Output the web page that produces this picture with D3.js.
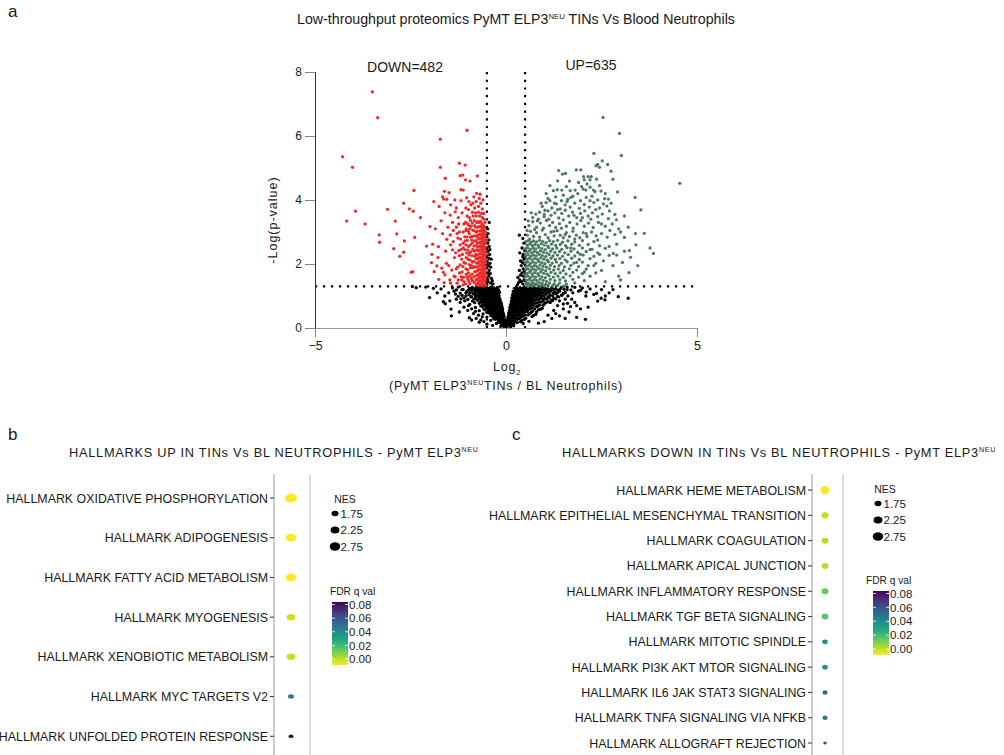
<!DOCTYPE html>
<html>
<head>
<meta charset="utf-8">
<script src="https://cdn.jsdelivr.net/npm/d3@7"></script>
<style>
  body { margin: 0; background: #fff; }
  text { font-family: "Liberation Sans", Arial, sans-serif; fill: #1a1a1a; }
</style>
</head>
<body>
<div id="chart"></div>
<script>
// ---------- panel a : volcano ----------
const xTicks = [-5, 0, 5];
const yTicks = [0, 2, 4, 6, 8];
const foldCut = 0.5;
const pCut = 1.3;
const downCount = 482;
const upCount = 635;

// [log2 fold change, -log10 p]
const downPts = [
  [-3.50,7.38],[-3.36,6.57],[-4.28,5.35],[-4.02,5.02],[-3.94,3.65],[-4.17,3.34],[-3.69,3.25],[-3.10,3.71],[-2.90,3.34],[-2.68,3.90],
  [-2.53,3.72],[-2.41,4.30],[-2.43,3.65],[-2.24,3.45],[-1.99,3.17],[-1.89,3.95],[-1.72,5.90],[-1.72,5.02],[-1.59,4.68],[-1.61,4.27],
  [-1.49,4.23],[-1.66,4.10],[-1.63,4.03],[-1.55,4.02],[-1.34,4.00],[-1.46,3.53],[-1.33,3.63],[-1.22,5.15],[-1.07,5.09],[-1.02,6.18],
  [-1.20,4.76],[-1.13,4.78],[-1.06,4.63],[-0.94,4.59],[-0.75,4.75],[-1.18,4.32],[-1.12,4.31],[-1.03,4.07],[-0.77,4.21],[-0.68,4.18],
  [-1.18,3.98],[-0.97,3.95],[-0.84,4.10],[-0.87,3.90],
  [-3.32,2.91],[-3.31,2.68],[-2.86,2.94],[-2.66,2.72],[-2.94,2.48],[-2.78,2.24],[-2.68,2.37],[-2.39,2.83],[-2.48,1.74],[-2.44,1.76],
  [-2.08,2.56],[-1.94,2.30],[-1.95,2.04],[-1.77,2.54],[-1.81,1.94],[-1.88,1.76],[-1.76,1.52],[-1.68,1.87],[-1.64,1.74],[-1.60,1.66],
  [-1.56,2.02],[-1.55,2.77],[-1.46,2.91],[-1.40,2.44],[-1.42,1.81],[-1.47,1.50],[-1.33,1.60],[-1.26,2.81],[-1.22,2.26],[-1.20,1.97],
  [-1.16,1.50],[-1.12,2.65],
  [-1.40,3.30],[-1.30,3.15],[-1.25,3.45],[-1.15,3.60],[-1.10,3.25],[-1.05,3.75],[-1.02,3.50],[-0.98,3.70],[-0.92,3.85],[-0.88,3.62],
  [-0.82,3.75],[-0.78,3.95],[-0.72,3.80],[-0.66,3.90],[-0.62,3.72],[-0.58,3.58],[-0.70,4.05],[-0.60,4.00],
  [-1.38,2.70],[-1.35,2.20],[-1.30,1.85],[-1.28,1.40],[-1.22,3.00],[-1.18,2.45],[-1.15,1.75],[-1.10,2.05],[-1.08,2.85],[-1.06,1.38],
  [-1.05,2.60],[-1.04,3.10],
  [-1.92,2.62],[-1.85,3.10],[-1.78,2.20],[-1.70,3.35],[-1.66,2.95],[-1.58,2.40],[-1.52,3.15],[-1.50,1.95],[-1.45,2.60],[-1.38,3.05],
  [-1.36,1.62],[-1.32,2.35],[-1.28,2.95],[-1.27,1.90],[-1.24,3.25],[-1.20,2.60],[-1.17,1.60],[-1.14,2.30],[-1.12,3.00],[-1.10,1.45],
  [-1.08,2.45],[-1.06,3.30],[-1.05,1.85],[-1.04,2.20],[-1.03,2.85],[-1.02,1.60],[-1.12,1.35],[-1.25,1.50],[-1.45,1.40],[-1.62,1.42],
  [-1.00,3.25],[-0.96,3.45],[-1.60,3.60],[-1.75,3.80],[-1.30,3.75],[-1.45,3.85],
  [-0.97,1.45],[-0.98,1.72],[-0.96,1.98],[-0.97,2.28],[-0.98,2.55],[-0.96,2.95],[-0.97,3.20],[-1.04,1.68],[-1.06,2.02],[-1.03,2.35],
  [-1.07,2.72],[-1.05,3.05],[-1.11,1.58],[-1.13,1.92],[-1.12,2.50],[-1.16,2.15],[-1.19,2.78],[-1.22,1.72],[-1.24,2.42],[-0.91,1.55],
  [-0.91,1.95],[-0.92,2.38],[-0.90,2.75],[-0.91,3.18],[-0.86,3.50],[-0.80,3.60],[-0.72,3.62],[-0.64,3.58],
  [-0.53,1.34],[-0.55,1.45],[-0.54,1.57],[-0.53,1.68],[-0.55,1.80],[-0.54,1.92],[-0.53,2.04],[-0.55,2.16],[-0.54,2.28],[-0.53,2.40],
  [-0.55,2.52],[-0.54,2.64],[-0.53,2.76],[-0.55,2.88],[-0.54,3.00],[-0.56,3.14],[-0.55,3.30],
  [-0.58,1.38],[-0.59,1.50],[-0.57,1.62],[-0.58,1.74],[-0.59,1.86],[-0.57,1.98],[-0.58,2.10],[-0.59,2.22],[-0.57,2.34],[-0.58,2.46],
  [-0.59,2.58],[-0.57,2.70],[-0.58,2.82],[-0.59,2.94],[-0.57,3.06],[-0.59,3.20],[-0.58,3.40],
  [-0.62,1.32],[-0.63,1.44],[-0.61,1.56],[-0.62,1.68],[-0.63,1.80],[-0.61,1.92],[-0.62,2.04],[-0.63,2.16],[-0.61,2.28],[-0.62,2.40],
  [-0.63,2.52],[-0.61,2.64],[-0.62,2.76],[-0.63,2.88],[-0.61,3.00],[-0.62,3.12],[-0.63,3.26],[-0.62,3.45],
  [-0.66,1.36],[-0.67,1.49],[-0.65,1.61],[-0.66,1.73],[-0.67,1.85],[-0.65,1.97],[-0.66,2.09],[-0.67,2.21],[-0.65,2.33],[-0.66,2.45],
  [-0.67,2.57],[-0.65,2.69],[-0.66,2.81],[-0.67,2.93],[-0.65,3.05],[-0.66,3.18],[-0.67,3.33],
  [-0.70,1.33],[-0.71,1.46],[-0.69,1.58],[-0.70,1.70],[-0.71,1.83],[-0.69,1.95],[-0.70,2.07],[-0.71,2.19],[-0.69,2.31],[-0.70,2.43],
  [-0.71,2.55],[-0.69,2.67],[-0.70,2.79],[-0.71,2.91],[-0.69,3.03],[-0.70,3.17],[-0.71,3.30],[-0.69,3.50],
  [-0.74,1.40],[-0.75,1.53],[-0.73,1.66],[-0.74,1.79],[-0.75,1.91],[-0.73,2.03],[-0.74,2.16],[-0.75,2.28],[-0.73,2.41],[-0.74,2.53],
  [-0.75,2.66],[-0.73,2.78],[-0.74,2.90],[-0.75,3.03],[-0.73,3.15],[-0.74,3.32],
  [-0.78,1.35],[-0.79,1.50],[-0.77,1.64],[-0.78,1.77],[-0.79,1.90],[-0.77,2.03],[-0.78,2.17],[-0.79,2.30],[-0.77,2.44],[-0.78,2.58],
  [-0.79,2.72],[-0.77,2.86],[-0.78,3.00],[-0.79,3.15],[-0.77,3.30],[-0.78,3.50],
  [-0.83,1.42],[-0.84,1.60],[-0.82,1.76],[-0.83,1.92],[-0.84,2.08],[-0.82,2.24],[-0.83,2.40],[-0.84,2.56],[-0.82,2.72],[-0.83,2.88],
  [-0.84,3.04],[-0.82,3.20],[-0.83,3.36],
  [-0.88,1.48],[-0.89,1.68],[-0.87,1.88],[-0.88,2.06],[-0.89,2.26],[-0.87,2.46],[-0.88,2.66],[-0.89,2.86],[-0.87,3.06],[-0.88,3.28],
  [-0.94,1.38],[-0.95,1.62],[-0.93,1.88],[-0.94,2.12],[-0.95,2.36],[-0.93,2.60],[-0.94,2.84],[-0.95,3.10],[-0.93,3.36],
  [-1.00,1.52],[-1.01,1.82],[-0.99,2.14],[-1.00,2.44],[-1.01,2.74],[-0.99,3.02]
];

const upPts = [
  [2.54,6.58],[2.97,6.08],[2.30,5.46],[3.02,5.39],[2.52,5.22],[2.36,5.07],[2.40,5.11],[2.45,5.02],[2.66,5.11],[2.75,4.90],
  [2.80,4.65],[1.38,4.92],[1.56,4.83],[1.48,4.81],[1.84,4.94],[1.96,4.94],[2.03,4.73],[2.05,4.63],[2.15,4.73],[2.20,4.63],
  [2.23,4.73],[1.66,4.59],[2.37,4.65],[4.55,4.52],[1.24,4.29],[1.34,4.32],[1.46,4.31],[1.68,4.29],[1.81,4.31],[1.98,4.42],
  [2.02,4.34],[2.09,4.31],[2.20,4.40],[2.29,4.31],[2.33,4.26],[2.49,4.28],[2.92,4.25],[2.58,4.04],[2.68,4.03],[3.38,4.08],
  [3.53,3.69],[2.89,3.38],[2.71,3.66],[2.64,3.81],[3.39,2.95],[3.62,2.96],[0.78,3.56],[0.82,3.35],[1.00,3.55],
  [3.86,2.33],[3.10,2.83],[3.23,2.42],[3.26,2.21],[3.22,1.73],[2.90,2.28],[2.81,2.33],[3.77,2.50],[3.45,1.95],[2.95,1.62],[3.05,2.05],
  [0.62,2.78],[0.75,3.08],[0.85,3.40],[0.92,3.90],[1.05,4.20],[1.15,4.45],[1.27,3.90],[1.35,4.60],[1.45,3.98],[1.58,4.42],
  [1.70,4.08],[1.78,3.52],[1.90,4.55],[2.00,3.45],[2.12,4.50],[2.22,3.40],[2.35,3.70],[2.45,4.45],[2.50,3.25],[2.60,4.20],
  [2.72,3.05],[2.75,3.90],[2.85,3.55],[2.95,3.10],[3.10,3.50],[3.20,3.15],[1.25,3.02],[1.55,2.92],[1.80,2.78],[2.10,2.95],
  [2.40,2.75],[2.70,2.55],[2.90,2.62],[3.10,2.40],[3.40,2.60],[2.55,2.10],[2.80,1.95],[3.00,1.50],[2.60,1.45],[2.35,1.72],
  [2.45,2.30],[2.20,2.45],[1.95,2.30],[1.70,2.50],[1.85,2.05],[2.05,1.75],[2.30,1.95],[0.66,3.60],[0.58,3.35],[0.55,3.05],
  [1.10,4.05],[1.30,4.10],[1.50,4.15],[1.62,4.02],[1.75,4.12],[1.88,4.20],[2.10,4.08],[2.25,4.12],[2.40,4.00],[1.95,3.98],
  [0.95,3.80],[1.05,3.92],[1.20,3.75],[1.32,3.88],[1.42,3.72],[1.55,3.85],[1.68,3.78],[1.80,3.90],[1.92,3.74],[2.05,3.86],
  [2.18,3.78],[2.30,3.92],[2.45,3.75],[2.55,3.88],[2.20,3.98],[1.60,3.95],[1.15,3.98],
  [0.70,3.45],[0.88,3.62],[1.00,3.48],[1.10,3.66],[1.18,3.52],[1.28,3.60],[1.38,3.44],[1.46,3.58],[1.55,3.68],[1.64,3.50],
  [1.74,3.62],[1.85,3.45],[1.95,3.58],[2.06,3.66],[2.15,3.50],[2.26,3.60],[2.40,3.48],[2.52,3.56],[2.68,3.42],[1.02,3.68],[1.35,3.70],
  [0.60,3.20],[0.70,3.32],[0.80,3.15],[0.90,3.28],[0.98,3.12],[1.06,3.36],[1.14,3.20],[1.22,3.30],[1.30,3.14],[1.40,3.26],
  [1.50,3.38],[1.58,3.18],[1.67,3.30],[1.76,3.12],[1.86,3.25],[1.96,3.36],[2.05,3.18],[2.16,3.28],[2.28,3.14],[2.42,3.30],
  [2.60,3.18],[2.78,3.25],[1.12,3.40],[1.45,3.12],
  [0.56,2.90],[0.64,3.02],[0.72,2.86],[0.80,2.98],[0.88,2.84],[0.95,3.06],[1.03,2.92],[1.10,2.82],[1.18,3.00],[1.26,2.88],
  [1.34,3.04],[1.42,2.90],[1.50,2.82],[1.58,2.98],[1.66,2.86],[1.75,3.02],[1.84,2.90],[1.93,2.82],[2.02,2.98],[2.12,2.86],
  [2.24,3.00],[2.36,2.88],[2.50,2.95],[2.65,2.84],[2.85,2.92],[3.00,3.00],
  [0.52,2.70],[0.58,2.73],[0.65,2.68],[0.72,2.72],[0.80,2.69],[0.88,2.74],[0.96,2.70],[1.05,2.67],[1.14,2.73],[1.24,2.70],
  [1.35,2.74],[1.48,2.68],[1.62,2.72],[1.80,2.69],[2.00,2.73],[2.30,2.70],
  [0.55,2.59],[0.62,2.62],[0.69,2.57],[0.76,2.61],[0.84,2.58],[0.92,2.63],[1.00,2.59],[1.09,2.56],[1.19,2.62],[1.30,2.58],
  [1.42,2.61],[1.56,2.57],[1.72,2.62],[1.92,2.58],[2.15,2.61],[2.45,2.57],
  [0.51,2.48],[0.57,2.51],[0.64,2.46],[0.71,2.50],[0.78,2.47],[0.86,2.52],[0.94,2.48],[1.03,2.45],[1.12,2.51],[1.22,2.47],
  [1.33,2.50],[1.46,2.46],[1.60,2.51],[1.78,2.47],[2.00,2.50],[2.25,2.46],[2.60,2.49],
  [0.53,2.37],[0.60,2.40],[0.67,2.35],[0.74,2.39],[0.82,2.36],[0.90,2.41],[0.98,2.37],[1.07,2.34],[1.17,2.40],[1.28,2.36],
  [1.40,2.39],[1.54,2.35],[1.70,2.40],[1.88,2.36],[2.10,2.39],[2.40,2.35],
  [0.52,2.26],[0.58,2.29],[0.65,2.24],[0.72,2.28],[0.79,2.25],[0.87,2.30],[0.95,2.26],[1.04,2.23],[1.13,2.29],[1.23,2.25],
  [1.35,2.28],[1.48,2.24],[1.63,2.29],[1.80,2.25],[2.02,2.28],[2.30,2.24],[2.70,2.27],
  [0.54,2.15],[0.61,2.18],[0.68,2.13],[0.75,2.17],[0.83,2.14],[0.91,2.19],[0.99,2.15],[1.08,2.12],[1.18,2.18],[1.29,2.14],
  [1.41,2.17],[1.55,2.13],[1.72,2.18],[1.92,2.14],[2.20,2.17],
  [0.51,2.04],[0.57,2.07],[0.64,2.02],[0.71,2.06],[0.78,2.03],[0.86,2.08],[0.94,2.04],[1.02,2.01],[1.11,2.07],[1.21,2.03],
  [1.32,2.06],[1.45,2.02],[1.60,2.07],[1.78,2.03],[2.00,2.06],[2.35,2.02],
  [0.53,1.93],[0.60,1.96],[0.67,1.91],[0.74,1.95],[0.81,1.92],[0.89,1.97],[0.97,1.93],[1.06,1.90],[1.16,1.96],[1.27,1.92],
  [1.39,1.95],[1.53,1.91],[1.70,1.96],[1.90,1.92],[2.15,1.95],
  [0.52,1.82],[0.58,1.85],[0.65,1.80],[0.72,1.84],[0.79,1.81],[0.87,1.86],[0.95,1.82],[1.04,1.79],[1.14,1.85],[1.25,1.81],
  [1.37,1.84],[1.50,1.80],[1.66,1.85],[1.85,1.81],[2.10,1.84],[2.50,1.80],
  [0.54,1.71],[0.61,1.74],[0.68,1.69],[0.75,1.73],[0.83,1.70],[0.91,1.75],[0.99,1.71],[1.08,1.68],[1.18,1.74],[1.29,1.70],
  [1.42,1.73],[1.57,1.69],[1.75,1.74],[2.00,1.70],
  [0.51,1.60],[0.57,1.63],[0.64,1.58],[0.71,1.62],[0.78,1.59],[0.86,1.64],[0.94,1.60],[1.03,1.57],[1.13,1.63],[1.24,1.59],
  [1.36,1.62],[1.50,1.58],[1.68,1.63],[1.90,1.59],[2.20,1.62],
  [0.53,1.49],[0.60,1.52],[0.67,1.47],[0.74,1.51],[0.81,1.48],[0.89,1.53],[0.97,1.49],[1.06,1.46],[1.16,1.52],[1.28,1.48],
  [1.41,1.51],[1.56,1.47],[1.75,1.52],[2.05,1.48],
  [0.52,1.39],[0.58,1.41],[0.65,1.37],[0.72,1.40],[0.79,1.38],[0.87,1.42],[0.95,1.39],[1.04,1.36],[1.14,1.41],[1.26,1.38],
  [1.40,1.40],[1.58,1.37],[1.80,1.41],
  [0.55,1.32],[0.62,1.33],[0.69,1.31],[0.76,1.34],[0.84,1.32],[0.92,1.33],[1.00,1.31],[1.10,1.34],[1.22,1.32],[1.35,1.33],[1.50,1.31]
];

const nsPts = [
  // left arm above the p cut-off
  [-0.50,1.35],[-0.47,1.45],[-0.51,1.56],[-0.45,1.62],[-0.49,1.72],[-0.44,1.80],[-0.50,1.88],[-0.46,1.95],[-0.42,2.02],[-0.49,2.08],
  [-0.45,2.18],[-0.50,2.26],[-0.43,2.30],[-0.47,2.40],[-0.50,2.50],[-0.44,2.55],[-0.48,2.65],[-0.45,2.75],[-0.50,2.85],[-0.47,2.95],
  [-0.40,1.40],[-0.38,1.55],[-0.41,1.70],[-0.36,1.48],[-0.40,1.90],[-0.39,2.15],[-0.42,2.45],[-0.34,1.38],[-0.50,1.42],[-0.48,1.52],
  [-0.46,1.70],[-0.51,2.00],[-0.50,2.38],[-0.48,3.10],[-0.44,3.30],
  // right arm above the p cut-off
  [0.30,1.35],[0.33,1.42],[0.36,1.50],[0.31,1.58],[0.40,1.45],[0.44,1.38],[0.47,1.50],[0.38,1.65],[0.42,1.72],[0.46,1.62],
  [0.35,1.80],[0.45,1.85],[0.40,1.95],[0.48,1.78],[0.43,2.05],[0.47,2.15],[0.38,2.10],[0.45,2.30],[0.49,2.42],[0.42,2.50],
  [0.47,2.65],[0.44,2.80],[0.49,2.00],[0.36,2.35],[0.35,2.90],[0.44,2.23],
  // left, below cut-off
  [-0.95,1.24],[-0.88,1.27],[-0.82,1.22],[-0.76,1.26],[-0.71,1.23],[-0.66,1.27],[-0.61,1.24],[-0.56,1.21],[-0.51,1.26],[-0.46,1.23],
  [-0.41,1.27],[-0.36,1.22],[-0.31,1.25],[-0.26,1.21],[-0.22,1.27],
  [-1.02,1.14],[-0.90,1.17],[-0.80,1.12],[-0.73,1.16],[-0.67,1.13],[-0.62,1.17],[-0.57,1.14],[-0.52,1.11],[-0.47,1.16],[-0.42,1.13],
  [-0.37,1.17],[-0.32,1.12],[-0.27,1.15],[-0.23,1.11],[-0.19,1.16],
  [-0.97,1.04],[-0.85,1.07],[-0.75,1.02],[-0.69,1.06],[-0.64,1.03],[-0.58,1.07],[-0.53,1.04],[-0.48,1.01],[-0.43,1.06],[-0.38,1.03],
  [-0.33,1.07],[-0.28,1.02],[-0.24,1.05],[-0.20,1.02],
  [-1.10,0.94],[-0.92,0.97],[-0.80,0.93],[-0.70,0.96],[-0.62,0.92],[-0.56,0.97],[-0.50,0.94],[-0.45,0.91],[-0.40,0.96],[-0.35,0.93],
  [-0.30,0.97],[-0.25,0.92],[-0.21,0.95],[-0.17,0.92],
  [-0.88,0.84],[-0.74,0.87],[-0.64,0.83],[-0.57,0.86],[-0.51,0.82],[-0.46,0.87],[-0.41,0.84],[-0.36,0.81],[-0.31,0.86],[-0.26,0.83],
  [-0.22,0.87],[-0.18,0.82],[-0.15,0.85],
  [-0.95,0.74],[-0.70,0.77],[-0.60,0.73],[-0.53,0.76],[-0.47,0.72],[-0.42,0.77],[-0.37,0.74],[-0.32,0.71],[-0.27,0.76],[-0.22,0.73],
  [-0.18,0.77],[-0.14,0.72],[-0.12,0.75],
  [-0.80,0.64],[-0.62,0.67],[-0.52,0.63],[-0.45,0.66],[-0.39,0.62],[-0.34,0.67],[-0.29,0.64],[-0.24,0.61],[-0.20,0.66],[-0.16,0.63],
  [-0.12,0.67],[-0.10,0.62],
  [-0.70,0.54],[-0.55,0.57],[-0.46,0.53],[-0.40,0.56],[-0.34,0.52],[-0.29,0.57],[-0.24,0.54],[-0.20,0.51],[-0.16,0.56],[-0.12,0.53],[-0.09,0.57],
  [-0.60,0.44],[-0.45,0.47],[-0.38,0.43],[-0.31,0.46],[-0.26,0.42],[-0.21,0.47],[-0.17,0.44],[-0.13,0.41],[-0.10,0.46],[-0.07,0.43],
  [-0.50,0.34],[-0.36,0.37],[-0.29,0.33],[-0.23,0.36],[-0.18,0.32],[-0.14,0.37],[-0.10,0.34],[-0.07,0.31],[-0.05,0.36],
  [-0.40,0.24],[-0.28,0.27],[-0.20,0.23],[-0.15,0.26],[-0.11,0.22],[-0.08,0.27],[-0.05,0.24],[-0.03,0.21],
  [-0.25,0.14],[-0.17,0.17],[-0.12,0.13],[-0.08,0.16],[-0.05,0.12],[-0.03,0.17],[-0.01,0.14],
  [-0.14,0.05],[-0.09,0.08],[-0.05,0.04],[-0.02,0.07],[0.00,0.03],
  [-1.30,1.19],[-1.15,1.20],[-0.99,1.18],[-0.91,1.21],[-0.85,1.19],[-0.79,1.20],[-0.74,1.18],[-0.69,1.21],[-0.64,1.19],[-0.59,1.20],
  [-0.54,1.18],[-0.49,1.21],[-0.44,1.19],[-0.39,1.20],[-0.34,1.18],[-0.29,1.21],[-0.24,1.19],[-0.20,1.20],
  [-1.20,1.09],[-0.94,1.10],[-0.86,1.08],[-0.78,1.11],[-0.71,1.09],[-0.65,1.10],[-0.60,1.08],[-0.55,1.11],[-0.50,1.09],[-0.45,1.10],
  [-0.40,1.08],[-0.35,1.11],[-0.30,1.09],[-0.25,1.10],[-0.21,1.08],[-0.17,1.11],
  [-1.25,0.99],[-1.05,1.00],[-0.90,0.98],[-0.80,1.01],[-0.72,0.99],[-0.66,1.00],[-0.60,0.98],[-0.55,1.01],[-0.50,0.99],[-0.45,1.00],
  [-0.40,0.98],[-0.36,1.01],[-0.31,0.99],[-0.27,1.00],[-0.22,0.98],[-0.18,1.00],
  [-1.00,0.89],[-0.84,0.90],[-0.75,0.88],[-0.67,0.91],[-0.60,0.89],[-0.54,0.90],[-0.48,0.88],[-0.43,0.91],[-0.38,0.89],[-0.33,0.90],
  [-0.28,0.88],[-0.24,0.91],[-0.20,0.89],[-0.16,0.90],
  [-0.82,0.79],[-0.68,0.80],[-0.60,0.78],[-0.54,0.81],[-0.49,0.79],[-0.44,0.80],[-0.39,0.78],[-0.34,0.81],[-0.29,0.79],[-0.24,0.80],
  [-0.20,0.78],[-0.16,0.81],[-0.13,0.79],
  [-0.66,0.69],[-0.56,0.70],[-0.49,0.68],[-0.43,0.71],[-0.38,0.69],[-0.33,0.70],[-0.28,0.68],[-0.23,0.71],[-0.19,0.69],[-0.15,0.70],[-0.11,0.68],
  [-0.58,0.59],[-0.48,0.60],[-0.42,0.58],[-0.36,0.61],[-0.31,0.59],[-0.26,0.60],[-0.22,0.58],[-0.18,0.61],[-0.14,0.59],[-0.10,0.60],
  [-0.50,0.49],[-0.41,0.50],[-0.35,0.48],[-0.29,0.51],[-0.24,0.49],[-0.19,0.50],[-0.15,0.48],[-0.11,0.51],[-0.08,0.49],
  [-0.40,0.39],[-0.32,0.40],[-0.26,0.38],[-0.20,0.41],[-0.16,0.39],[-0.12,0.40],[-0.09,0.38],[-0.06,0.41],
  [-0.32,0.29],[-0.24,0.30],[-0.18,0.28],[-0.13,0.31],[-0.09,0.29],[-0.06,0.30],[-0.04,0.28],
  [-0.20,0.19],[-0.14,0.20],[-0.10,0.18],[-0.06,0.21],[-0.04,0.19],[-0.02,0.20],
  [-0.10,0.09],[-0.06,0.10],[-0.03,0.08],[0.01,0.10],
  // left scattered
  [-1.64,0.82],[-1.59,0.76],[-1.47,0.85],[-1.44,0.59],[-1.43,0.38],[-1.36,1.15],[-1.32,1.06],[-1.20,0.80],[-1.15,1.02],[-1.18,0.91],
  [-1.08,0.85],[-1.05,1.10],[-0.98,0.70],[-0.96,0.32],[-1.00,0.55],[-0.90,0.60],[-0.85,0.45],[-0.80,0.52],[-0.78,0.30],[-0.72,0.40],
  [-0.66,0.25],[-0.62,0.35],[-0.58,0.20],[-2.45,1.30],[-2.10,1.28],[-1.90,1.24],[-1.70,1.22],[-1.25,1.28],[-1.12,1.20],[-1.40,1.25],[-2.35,1.26],
  [-1.50,1.10],[-1.60,1.00],[-1.30,0.90],[-1.10,0.65],[-1.22,0.50],[-0.90,0.25],[-0.70,0.18],[-0.50,0.12],[-0.35,0.08],[-1.80,1.10],[-2.00,0.95],
  // right, below cut-off
  [0.22,1.24],[0.27,1.27],[0.32,1.22],[0.37,1.26],[0.42,1.23],[0.47,1.27],[0.53,1.24],[0.58,1.21],[0.63,1.26],[0.68,1.23],
  [0.73,1.27],[0.78,1.22],[0.84,1.25],[0.90,1.21],[0.96,1.27],[1.03,1.24],[1.10,1.21],[1.20,1.26],[1.30,1.23],[1.45,1.27],
  [0.19,1.14],[0.24,1.17],[0.29,1.12],[0.34,1.16],[0.39,1.13],[0.44,1.17],[0.50,1.14],[0.55,1.11],[0.60,1.16],[0.66,1.13],
  [0.72,1.17],[0.78,1.12],[0.85,1.15],[0.92,1.11],[1.00,1.16],[1.08,1.13],[1.18,1.17],[1.28,1.12],[1.40,1.15],[1.55,1.11],
  [0.17,1.04],[0.22,1.07],[0.27,1.02],[0.32,1.06],[0.37,1.03],[0.43,1.07],[0.48,1.04],[0.54,1.01],[0.60,1.06],[0.66,1.03],
  [0.73,1.07],[0.80,1.02],[0.88,1.05],[0.96,1.01],[1.05,1.06],[1.15,1.03],[1.30,1.07],[1.46,1.02],
  [0.15,0.94],[0.20,0.97],[0.25,0.93],[0.30,0.96],[0.35,0.92],[0.41,0.97],[0.47,0.94],[0.53,0.91],[0.60,0.96],[0.67,0.93],
  [0.75,0.97],[0.83,0.92],[0.92,0.95],[1.02,0.92],[1.13,0.96],[1.25,0.93],[1.38,0.97],
  [0.14,0.84],[0.18,0.87],[0.23,0.83],[0.28,0.86],[0.33,0.82],[0.39,0.87],[0.45,0.84],[0.52,0.81],[0.59,0.86],[0.67,0.83],
  [0.76,0.87],[0.86,0.82],[0.97,0.85],[1.10,0.82],[1.22,0.86],
  [0.12,0.74],[0.16,0.77],[0.21,0.73],[0.26,0.76],[0.31,0.72],[0.37,0.77],[0.43,0.74],[0.50,0.71],[0.58,0.76],[0.66,0.73],
  [0.76,0.77],[0.88,0.72],[1.00,0.75],
  [0.10,0.64],[0.14,0.67],[0.19,0.63],[0.24,0.66],[0.29,0.62],[0.35,0.67],[0.42,0.64],[0.50,0.61],[0.58,0.66],[0.68,0.63],
  [0.80,0.67],[0.95,0.62],
  [0.09,0.54],[0.12,0.57],[0.17,0.53],[0.22,0.56],[0.28,0.52],[0.34,0.57],[0.41,0.54],[0.49,0.51],[0.58,0.56],[0.70,0.53],[0.85,0.57],
  [0.07,0.44],[0.11,0.47],[0.15,0.43],[0.20,0.46],[0.26,0.42],[0.33,0.47],[0.41,0.44],[0.50,0.41],[0.62,0.46],[0.78,0.43],
  [0.05,0.34],[0.09,0.37],[0.13,0.33],[0.18,0.36],[0.24,0.32],[0.31,0.37],[0.40,0.34],[0.52,0.31],[0.68,0.36],
  [0.03,0.24],[0.07,0.27],[0.11,0.23],[0.16,0.26],[0.22,0.22],[0.30,0.27],[0.42,0.24],[0.60,0.21],
  [0.02,0.14],[0.05,0.17],[0.09,0.13],[0.14,0.16],[0.20,0.12],[0.30,0.17],[0.45,0.14],
  [0.03,0.05],[0.07,0.08],[0.12,0.04],[0.20,0.07],
  [0.25,1.19],[0.30,1.20],[0.35,1.18],[0.40,1.21],[0.45,1.19],[0.50,1.20],[0.56,1.18],[0.61,1.21],[0.66,1.19],[0.71,1.20],
  [0.76,1.18],[0.81,1.21],[0.87,1.19],[0.93,1.20],[1.00,1.18],[1.07,1.21],[1.15,1.19],[1.25,1.20],[1.36,1.18],[1.52,1.21],[1.70,1.19],
  [0.21,1.09],[0.26,1.10],[0.31,1.08],[0.36,1.11],[0.42,1.09],[0.47,1.10],[0.52,1.08],[0.58,1.11],[0.63,1.09],[0.69,1.10],
  [0.75,1.08],[0.82,1.11],[0.89,1.09],[0.96,1.10],[1.04,1.08],[1.13,1.11],[1.23,1.09],[1.35,1.10],[1.50,1.08],
  [0.19,0.99],[0.24,1.00],[0.29,0.98],[0.35,1.01],[0.40,0.99],[0.45,1.00],[0.51,0.98],[0.57,1.01],[0.63,0.99],[0.70,1.00],
  [0.77,0.98],[0.84,1.01],[0.92,0.99],[1.00,1.00],[1.10,0.98],[1.22,1.01],[1.35,0.99],
  [0.17,0.89],[0.22,0.90],[0.27,0.88],[0.32,0.91],[0.38,0.89],[0.44,0.90],[0.50,0.88],[0.56,0.91],[0.63,0.89],[0.71,0.90],
  [0.79,0.88],[0.88,0.91],[0.97,0.89],[1.07,0.90],[1.18,0.88],[1.30,0.91],
  [0.15,0.79],[0.20,0.80],[0.25,0.78],[0.30,0.81],[0.36,0.79],[0.42,0.80],[0.48,0.78],[0.55,0.81],[0.62,0.79],[0.71,0.80],
  [0.81,0.78],[0.92,0.81],[1.04,0.79],[1.16,0.80],
  [0.13,0.69],[0.17,0.70],[0.22,0.68],[0.28,0.71],[0.34,0.69],[0.40,0.70],[0.47,0.68],[0.54,0.71],[0.62,0.69],[0.72,0.70],[0.84,0.68],[0.97,0.71],
  [0.11,0.59],[0.15,0.60],[0.20,0.58],[0.26,0.61],[0.32,0.59],[0.38,0.60],[0.45,0.58],[0.53,0.61],[0.63,0.59],[0.75,0.60],[0.90,0.58],
  [0.08,0.49],[0.13,0.50],[0.18,0.48],[0.23,0.51],[0.30,0.49],[0.37,0.50],[0.45,0.48],[0.55,0.51],[0.66,0.49],[0.80,0.50],
  [0.07,0.39],[0.11,0.40],[0.16,0.38],[0.21,0.41],[0.27,0.39],[0.35,0.40],[0.45,0.38],[0.58,0.41],[0.72,0.39],
  [0.05,0.29],[0.09,0.30],[0.14,0.28],[0.19,0.31],[0.26,0.29],[0.35,0.30],[0.48,0.28],
  [0.04,0.19],[0.08,0.20],[0.12,0.18],[0.17,0.21],[0.25,0.19],[0.38,0.20],
  [0.04,0.09],[0.08,0.10],[0.14,0.08],
  // right scattered
  [1.41,1.21],[1.46,1.03],[1.61,0.77],[1.69,0.67],[1.85,0.33],[2.08,0.27],[2.09,1.00],[2.15,0.65],[2.37,1.08],[2.40,0.84],
  [2.49,0.93],[2.59,0.88],[2.94,0.98],[3.20,0.93],[1.60,1.20],[1.75,1.10],[1.90,1.15],[2.00,1.25],[2.20,1.22],[2.50,1.20],
  [2.70,1.10],[1.55,0.90],[1.65,0.50],[1.80,0.80],[1.95,0.60],[1.25,0.55],[1.10,0.40],[1.35,0.70],[1.50,0.60],[1.20,0.30],
  [1.60,1.28],[1.80,1.27],[1.95,1.18],[2.10,1.12],[2.30,1.05],[2.60,1.00],[2.80,1.20],[1.40,0.85],[1.50,0.75],[1.62,1.00],
  [1.72,0.90],[1.85,0.70],[1.30,0.45],[1.40,0.38],[1.55,0.30],[1.00,0.20],[0.85,0.15]
];

// ---------- panels b and c : hallmark dot plots ----------
const upTerms = [
  "HALLMARK OXIDATIVE PHOSPHORYLATION", "HALLMARK ADIPOGENESIS", "HALLMARK FATTY ACID METABOLISM",
  "HALLMARK MYOGENESIS", "HALLMARK XENOBIOTIC METABOLISM", "HALLMARK MYC TARGETS V2",
  "HALLMARK UNFOLDED PROTEIN RESPONSE"
];
const upNES = [3.3, 2.8, 2.8, 2.2, 2.2, 1.55, 1.36];
const upFDR = [0.0, 0.0, 0.0, 0.006, 0.007, 0.048, 0.081];

const downTerms = [
  "HALLMARK HEME METABOLISM", "HALLMARK EPITHELIAL MESENCHYMAL TRANSITION", "HALLMARK COAGULATION",
  "HALLMARK APICAL JUNCTION", "HALLMARK INFLAMMATORY RESPONSE", "HALLMARK TGF BETA SIGNALING",
  "HALLMARK MITOTIC SPINDLE", "HALLMARK PI3K AKT MTOR SIGNALING", "HALLMARK IL6 JAK STAT3 SIGNALING",
  "HALLMARK TNFA SIGNALING VIA NFKB", "HALLMARK ALLOGRAFT REJECTION"
];
const downNES = [2.36, 1.82, 1.75, 1.72, 1.75, 1.72, 1.45, 1.45, 1.38, 1.38, 1.15];
const downFDR = [0.0, 0.008, 0.009, 0.009, 0.02, 0.022, 0.043, 0.042, 0.055, 0.05, 0.062];

const nesBreaks = [1.75, 2.25, 2.75];
const fdrBreaks = [0.00, 0.02, 0.04, 0.06, 0.08];

const W = 1004, H = 755;
const svg = d3.select("#chart").append("svg")
  .attr("width", W).attr("height", H)
  .style("display", "block");

// text with a small raised "NEU" or lowered subscript
function supText(g, parts, x, y, size, anchor, spacing) {
  const t = g.append("text").attr("x", x).attr("y", y)
    .style("font-size", size + "px").attr("text-anchor", anchor || "start");
  if (spacing) t.style("letter-spacing", spacing + "px");
  parts.forEach(p => {
    if (p.sup) {
      t.append("tspan").attr("dy", -size * 0.38).style("font-size", (size * 0.55) + "px").text(p.text);
    } else if (p.sub) {
      t.append("tspan").attr("dy", size * 0.3).style("font-size", (size * 0.6) + "px").text(p.text);
    } else {
      const ts = t.append("tspan").text(p.text);
      if (p.back) ts.attr("dy", p.back);
    }
  });
  return t;
}

// panel letters
svg.append("text").attr("x", 8).attr("y", 17).style("font-size", "17px").text("a");
svg.append("text").attr("x", 8).attr("y", 440).style("font-size", "17px").text("b");
svg.append("text").attr("x", 512).attr("y", 440).style("font-size", "17px").text("c");

// ---- volcano ----
const x = d3.scaleLinear().domain([-5, 5]).range([315, 697]);
const y = d3.scaleLinear().domain([0, 8]).range([328, 72]);

supText(svg, [{text: "Low-throughput proteomics PyMT ELP3"}, {text: "NEU", sup: true},
  {text: " TINs Vs Blood Neutrophils", back: 14.2 * 0.38}], 516, 24, 14.2, "middle");

// dotted cut-off lines
svg.append("line")
  .attr("x1", x(-5)).attr("x2", x(4.9))
  .attr("y1", y(pCut)).attr("y2", y(pCut))
  .attr("stroke", "#000").attr("stroke-width", 2.2).attr("stroke-dasharray", "2.2,5.8");
[-foldCut, foldCut].forEach(v => {
  svg.append("line")
    .attr("x1", x(v)).attr("x2", x(v))
    .attr("y1", y(8)).attr("y2", y(0))
    .attr("stroke", "#000").attr("stroke-width", 2.2).attr("stroke-dasharray", "2.2,5.5");
});

svg.append("g").selectAll("circle").data(nsPts).enter().append("circle")
  .attr("cx", d => x(d[0])).attr("cy", d => y(d[1])).attr("r", 1.65).attr("fill", "#000");
svg.append("g").selectAll("circle").data(downPts).enter().append("circle")
  .attr("cx", d => x(d[0])).attr("cy", d => y(d[1])).attr("r", 1.65).attr("fill", "#ee2a2a");
svg.append("g").selectAll("circle").data(upPts).enter().append("circle")
  .attr("cx", d => x(d[0])).attr("cy", d => y(d[1])).attr("r", 1.65).attr("fill", "#4c7a60");

// axes
const yAxis = svg.append("g")
  .attr("transform", `translate(${x(-5)},0)`)
  .call(d3.axisLeft(y).tickValues(yTicks).tickSize(10).tickPadding(3).tickFormat(d3.format("d")));
yAxis.select(".domain").attr("stroke", "#333");
yAxis.selectAll(".tick line").attr("stroke", "#888");
yAxis.selectAll("text").style("font-size", "12px").attr("fill", "#1a1a1a");

const xAxis = svg.append("g")
  .attr("transform", `translate(0,${y(0)})`)
  .call(d3.axisBottom(x).tickValues(xTicks).tickSize(9).tickPadding(4).tickSizeOuter(0).tickFormat(d3.format("d")));
xAxis.select(".domain").attr("stroke", "#999");
xAxis.selectAll(".tick line").attr("stroke", "#888");
xAxis.selectAll("text").style("font-size", "12.5px").attr("fill", "#1a1a1a");

svg.append("text").attr("x", 405).attr("y", 72).attr("text-anchor", "middle")
  .style("font-size", "14px").text("DOWN=" + downCount);
svg.append("text").attr("x", 591).attr("y", 70).attr("text-anchor", "middle")
  .style("font-size", "14px").text("UP=" + upCount);

svg.append("text")
  .attr("transform", "translate(277,220) rotate(-90)")
  .attr("text-anchor", "middle").style("font-size", "12.5px").style("letter-spacing", "1px")
  .text("-Log(p-value)");
supText(svg, [{text: "Log"}, {text: "2", sub: true}], 493, 371, 12.5, "start", 0.8);
supText(svg, [{text: "(PyMT ELP3"}, {text: "NEU", sup: true},
  {text: "TINs / BL Neutrophils)", back: 12.5 * 0.38}], 506, 390, 12.5, "middle", 0.75);

// ---- dot plots ----
const fdrColor = v => d3.interpolateViridis(1 - v / 0.083);
// ellipse width from NES (area grows linearly above ~0.95)
const nesScale = d3.scaleSqrt().domain([0, 1.8]).range([0, 10.5]);
const nesWidth = v => nesScale(Math.max(0, v - 0.95));

function dotPlot(o) {
  const g = svg.append("g");
  supText(g, [{text: o.title}, {text: "NEU", sup: true}], o.titleX, 457, 12.8, "start", 0.72);

  const band = d3.scaleBand().domain(o.terms)
    .range([o.top0, o.top0 + o.step * o.terms.length]);

  g.append("line").attr("x1", o.left).attr("x2", o.left).attr("y1", 474).attr("y2", H)
    .attr("stroke", "#aaa").attr("stroke-width", 1.2);
  g.append("line").attr("x1", o.right).attr("x2", o.right).attr("y1", 474).attr("y2", H)
    .attr("stroke", "#bbb").attr("stroke-width", 1);

  o.terms.forEach((t, i) => {
    const cy = band(t) + band.bandwidth() / 2;
    g.append("line").attr("x1", o.left - 4).attr("x2", o.left).attr("y1", cy).attr("y2", cy)
      .attr("stroke", "#333").attr("stroke-width", 1);
    g.append("text").attr("x", o.left - 6).attr("y", cy).attr("dy", "0.36em")
      .attr("text-anchor", "end").style("font-size", "12.4px").text(t);
    const w = nesWidth(o.nes[i]);
    g.append("ellipse").attr("cx", o.dotX).attr("cy", cy)
      .attr("rx", w / 2).attr("ry", w / 2 * o.squash)
      .attr("fill", fdrColor(o.fdr[i]));
  });

  // size legend
  g.append("text").attr("x", o.legX + o.nesDx).attr("y", o.legY).attr("text-anchor", "middle")
    .style("font-size", "10.5px").text("NES");
  nesBreaks.forEach((b, i) => {
    const ly = o.legY + 10.5 + i * 16.5;
    const w = nesWidth(b);
    g.append("ellipse").attr("cx", o.legX).attr("cy", ly)
      .attr("rx", w / 2).attr("ry", w / 2 * 0.8).attr("fill", "#000");
    g.append("text").attr("x", o.legX + 5.5).attr("y", ly).attr("dy", "0.36em")
      .style("font-size", "11.5px").text(b.toFixed(2));
  });

  // colour bar
  g.append("text").attr("x", o.fdrX).attr("y", o.barTop - 7)
    .style("font-size", "10.2px").text("FDR q val");
  const gid = "grad" + o.id;
  const grad = svg.append("defs").append("linearGradient").attr("id", gid)
    .attr("x1", 0).attr("x2", 0).attr("y1", 0).attr("y2", 1);
  d3.range(0, 1.01, 0.1).forEach(s => {
    grad.append("stop").attr("offset", s).attr("stop-color", d3.interpolateViridis(s));
  });
  g.append("rect").attr("x", o.barX).attr("y", o.barTop)
    .attr("width", 16).attr("height", o.barH).attr("fill", `url(#${gid})`);
  const cb = d3.scaleLinear().domain([0, 0.08]).range([o.barTop + o.barH - 6, o.barTop + 2.5]);
  fdrBreaks.forEach(b => {
    g.append("line").attr("x1", o.barX).attr("x2", o.barX + 3).attr("y1", cb(b)).attr("y2", cb(b))
      .attr("stroke", "#fff").attr("stroke-opacity", 0.8);
    g.append("line").attr("x1", o.barX + 13).attr("x2", o.barX + 16).attr("y1", cb(b)).attr("y2", cb(b))
      .attr("stroke", "#fff").attr("stroke-opacity", 0.8);
    g.append("text").attr("x", o.barX + 17).attr("y", cb(b)).attr("dy", "0.36em")
      .style("font-size", "11.5px").text(b.toFixed(2));
  });
}

dotPlot({
  id: "b", title: "HALLMARKS UP IN TINs Vs BL NEUTROPHILS - PyMT ELP3", titleX: 69,
  terms: upTerms, nes: upNES, fdr: upFDR,
  left: 274, right: 310, dotX: 291, top0: 478.2, step: 39.7, squash: 0.74,
  legX: 335, legY: 503, nesDx: 10, barX: 332, barTop: 602, barH: 63, fdrX: 330
});
dotPlot({
  id: "c", title: "HALLMARKS DOWN IN TINs Vs BL NEUTROPHILS - PyMT ELP3", titleX: 562,
  terms: downTerms, nes: downNES, fdr: downFDR,
  left: 812, right: 843, dotX: 825, top0: 477.4, step: 25.3, squash: 0.86,
  legX: 878, legY: 493, nesDx: 7, barX: 873, barTop: 591, barH: 64, fdrX: 866
});
</script>
</body>
</html>
